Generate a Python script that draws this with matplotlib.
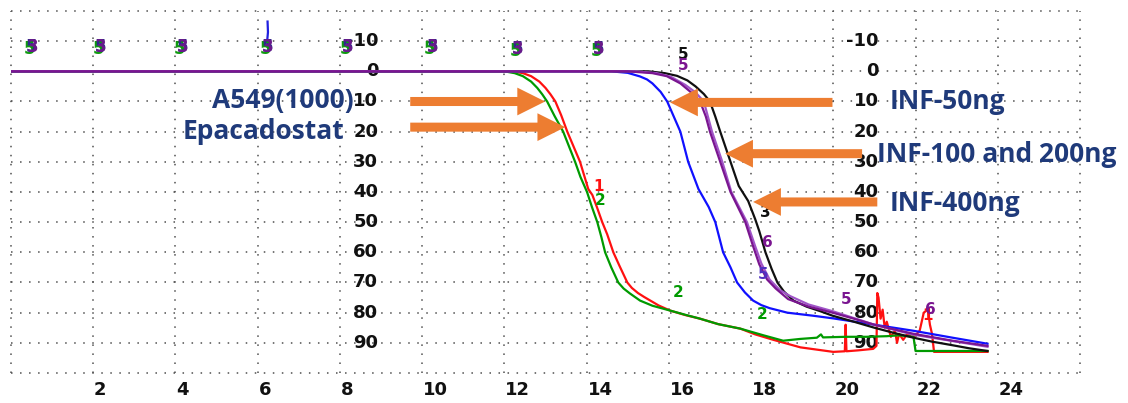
import matplotlib
matplotlib.use("Agg")
import matplotlib.pyplot as plt
from matplotlib.patches import FancyArrowPatch, ArrowStyle
from matplotlib.transforms import blended_transform_factory

plt.rcParams["lines.scale_dashes"] = False

# ---- cell index curves: (time in hours, normalised value) ----
a549_ctrl = [(0, 0), (4, 0), (8, 0), (11, 0), (12.2, 0), (12.45, 0.6), (12.65, 1.6), (12.85, 3.4),
             (13.0, 5.5), (13.12, 7.6), (13.24, 10), (13.38, 14.5), (13.53, 20), (13.84, 30),
             (14.04, 39), (14.14, 41), (14.25, 45), (14.38, 50), (14.5, 54), (14.65, 60),
             (14.8, 64.5), (14.99, 70), (15.1, 71.8), (15.25, 73.5), (15.4, 74.8), (15.55, 76),
             (15.75, 77.6), (16.03, 79.3), (16.4, 80.8), (16.76, 82), (17.2, 83.8), (17.74, 85.3),
             (18.1, 87.2), (18.54, 89), (19.2, 91.5), (20.0, 93),
             (20.28, 92.8), (20.3, 84), (20.32, 92.8), (20.6, 92.5), (20.97, 92), (21.05, 91),
             (21.07, 73.5), (21.1, 75), (21.15, 82), (21.2, 79), (21.25, 85), (21.3, 83),
             (21.4, 88), (21.5, 86), (21.55, 90), (21.6, 87), (21.7, 89), (21.8, 87), (21.9, 88),
             (22.0, 87.5), (22.1, 86), (22.15, 83), (22.2, 80), (22.3, 79), (22.35, 84),
             (22.4, 87), (22.45, 93), (23.75, 93)]

epacadostat = [(0, 0), (4, 0), (8, 0), (11, 0), (12.0, 0), (12.25, 0.6), (12.45, 1.6),
               (12.65, 3.4), (12.8, 5.5), (12.92, 7.6), (13.04, 10), (13.22, 14.8), (13.43, 20),
               (13.72, 30), (13.85, 35), (14.01, 40), (14.13, 45), (14.26, 50), (14.36, 55),
               (14.45, 60), (14.6, 65), (14.77, 70), (14.9, 72), (15.05, 73.6), (15.3, 76),
               (15.6, 77.7), (16.03, 79.3), (16.4, 80.7), (16.76, 82), (17.2, 83.8),
               (17.74, 85.3), (18.3, 87.5), (18.78, 89.3), (19.2, 88.7), (19.6, 88.3),
               (19.7, 87.2), (19.75, 88.2), (20.3, 88), (20.8, 88), (21.3, 87.8), (21.6, 87.5),
               (21.95, 88), (22.0, 92.7), (23.75, 92.7)]

inf_50 = [(0, 0), (14.6, 0), (15.0, 0.5), (15.3, 1.7), (15.47, 2.7), (15.6, 4), (15.8, 6.8),
          (15.96, 10), (16.12, 15), (16.28, 20), (16.47, 30), (16.72, 39), (16.97, 45),
          (17.13, 50), (17.32, 60), (17.5, 65), (17.66, 70), (17.85, 73.3), (18.05, 76),
          (18.25, 77.5), (18.45, 78.5), (18.88, 80), (19.5, 81), (20.0, 81.9), (21.0, 84),
          (21.95, 86), (22.9, 88.3), (23.75, 90.3)]

inf_100 = [(0, 0), (15.0, 0), (15.6, 0.6), (15.95, 1.6), (16.28, 4), (16.5, 6.5), (16.65, 8.3),
           (16.76, 10), (16.9, 15), (17.0, 20), (17.25, 30), (17.5, 40), (17.86, 50),
           (18.05, 58), (18.2, 64), (18.39, 69), (18.6, 72), (18.9, 75.5), (19.4, 78),
           (19.98, 80), (20.5, 82), (21.0, 84), (21.5, 85.6), (21.95, 87), (22.9, 89.3),
           (23.75, 91)]

inf_200 = [(0, 0), (15.2, 0), (15.7, 0.6), (16.05, 1.8), (16.4, 4.5), (16.65, 7), (16.85, 10),
           (17.05, 20), (17.3, 30), (17.52, 40), (17.9, 50), (18.1, 58), (18.25, 63.7),
           (18.45, 69), (18.7, 72.5), (18.95, 74.5), (19.4, 77.3), (19.98, 79.5), (21.0, 84),
           (21.95, 87.3), (23.75, 91.3)]

inf_400 = [(0, 0), (15.5, 0), (15.9, 0.6), (16.2, 1.5), (16.45, 3), (16.65, 5), (16.85, 7.5),
           (17.0, 10), (17.13, 15), (17.25, 20), (17.5, 30), (17.7, 38), (17.93, 43),
           (18.1, 49), (18.2, 53), (18.35, 60), (18.5, 65.5), (18.64, 70), (18.8, 73),
           (19.03, 76), (19.35, 78), (19.68, 79.5), (19.98, 81), (20.5, 83), (21.0, 85),
           (21.5, 86.8), (21.95, 88.3), (22.4, 89.6), (22.9, 90.8), (23.3, 91.8), (23.75, 92.7)]

# short glitch near 6 h
blip_6h = [(6.24, -16.5), (6.25, -13), (6.23, -10)]

series = [
    (a549_ctrl, "#FF1010"),
    (epacadostat, "#009A00"),
    (inf_50, "#1010FF"),
    (inf_400, "#101010"),
    (inf_200, "#A055C8"),
    (inf_100, "#7A1590"),
]

# marker digits placed on the curves
event_marks = [(0.51, -8), (2.17, -8), (4.16, -8), (6.23, -8), (8.18, -8),
               (10.24, -8), (12.31, -7.5), (14.28, -7.5)]
curve_marks = [("1", 14.3, 38.3, "#FF1010"), ("2", 14.32, 42.7, "#009A00"),
               ("2", 16.23, 73.3, "#009A00"), ("2", 18.27, 80.7, "#009A00"),
               ("5", 16.35, -5.5, "#101010"), ("5", 16.35, -2.0, "#7A1590"),
               ("3", 18.35, 46.7, "#101010"), ("6", 18.4, 56.7, "#7A1590"),
               ("5", 18.3, 67.5, "#5030C0"), ("5", 20.3, 75.5, "#7A1590"),
               ("1", 22.3, 81.0, "#FF1010"), ("6", 22.35, 79.0, "#7A1590")]

x_ticks = [2, 4, 6, 8, 10, 12, 14, 16, 18, 20, 22, 24]
y_ticks = [-10, 0, 10, 20, 30, 40, 50, 60, 70, 80, 90]
y_label_cols = [8.93, 21.1]

labels_left = [("A549(1000)", 6.62, 9.6), ("Epacadostat", 6.13, 20.0)]
labels_right = [("INF-50ng", 21.36, 10.0), ("INF-100 and 200ng", 21.07, 27.7),
                ("INF-400ng", 21.36, 43.7)]
arrows = [((9.71, 10.0), (12.99, 10.0)), ((9.71, 18.5), (13.48, 18.5)),
          ((19.98, 10.3), (16.03, 10.3)), ((20.7, 27.3), (17.37, 27.3)),
          ((21.07, 43.3), (18.05, 43.3))]

fig = plt.figure(figsize=(11.28, 4.03), dpi=100)
ax = fig.add_axes([11 / 1128, 1 - 373 / 403, (1080 - 11) / 1128, 362 / 403])
ax.set_xlim(0, 26)
ax.set_ylim(100, -20)
ax.set_axis_off()

grid_kw = dict(color="#505050", lw=1.1, dashes=(1.1, 5.4), clip_on=False, zorder=1)
for gx in range(0, 27, 2):
    ax.axvline(gx, **grid_kw)
for gy in range(-20, 101, 10):
    ax.axhline(gy, **grid_kw)

for pts, col in series:
    xs = [p[0] for p in pts]
    ys = [p[1] for p in pts]
    ax.plot(xs, ys, color=col, lw=1.6, zorder=3, solid_joinstyle="round")
ax.plot([p[0] for p in blip_6h], [p[1] for p in blip_6h], color="#2020E0", lw=1.6, zorder=3)

num_font = dict(family="DejaVu Sans", fontweight="bold", fontsize=12)
for mx, my in event_marks:
    ax.text(mx - 0.05, my + 0.6, "5", color="#109A10", ha="center", va="center", zorder=4, **num_font)
    ax.text(mx, my, "5", color="#2A2A8A", ha="center", va="center", zorder=4, **num_font)
    ax.text(mx + 0.02, my, "3", color="#6A1A8A", ha="center", va="center", zorder=4, **num_font)
for s, mx, my, col in curve_marks:
    ax.text(mx, my, s, color=col, ha="center", va="center", zorder=4,
            family="DejaVu Sans", fontweight="bold", fontsize=11)

tick_font = dict(family="DejaVu Sans", fontweight="bold", fontsize=13, color="#111111")
for cx in y_label_cols:
    for v in y_ticks:
        ax.text(cx, v, str(v), ha="right", va="center", zorder=2, **tick_font)

trans = blended_transform_factory(ax.transData, ax.transAxes)
for t in x_ticks:
    ax.text(t + 0.02, -0.047, str(t), transform=trans, ha="left", va="center",
            clip_on=False, **tick_font)

for (x0, y0), (x1, y1) in arrows:
    arr = FancyArrowPatch((x0, y0), (x1, y1),
                          arrowstyle=ArrowStyle.Simple(head_length=20, head_width=20, tail_width=6.5),
                          mutation_scale=1, color="#ED7D31", lw=0, shrinkA=0, shrinkB=0, zorder=6)
    ax.add_patch(arr)

lab_font = dict(family="Open Sans", fontweight="bold", fontsize=19, color="#1F3A7A", zorder=7)
for s, lx, ly in labels_left:
    ax.text(lx, ly, s, ha="center", va="center", **lab_font)
for s, lx, ly in labels_right:
    ax.text(lx, ly, s, ha="left", va="center", **lab_font)

fig.savefig("out.png", dpi=100)
